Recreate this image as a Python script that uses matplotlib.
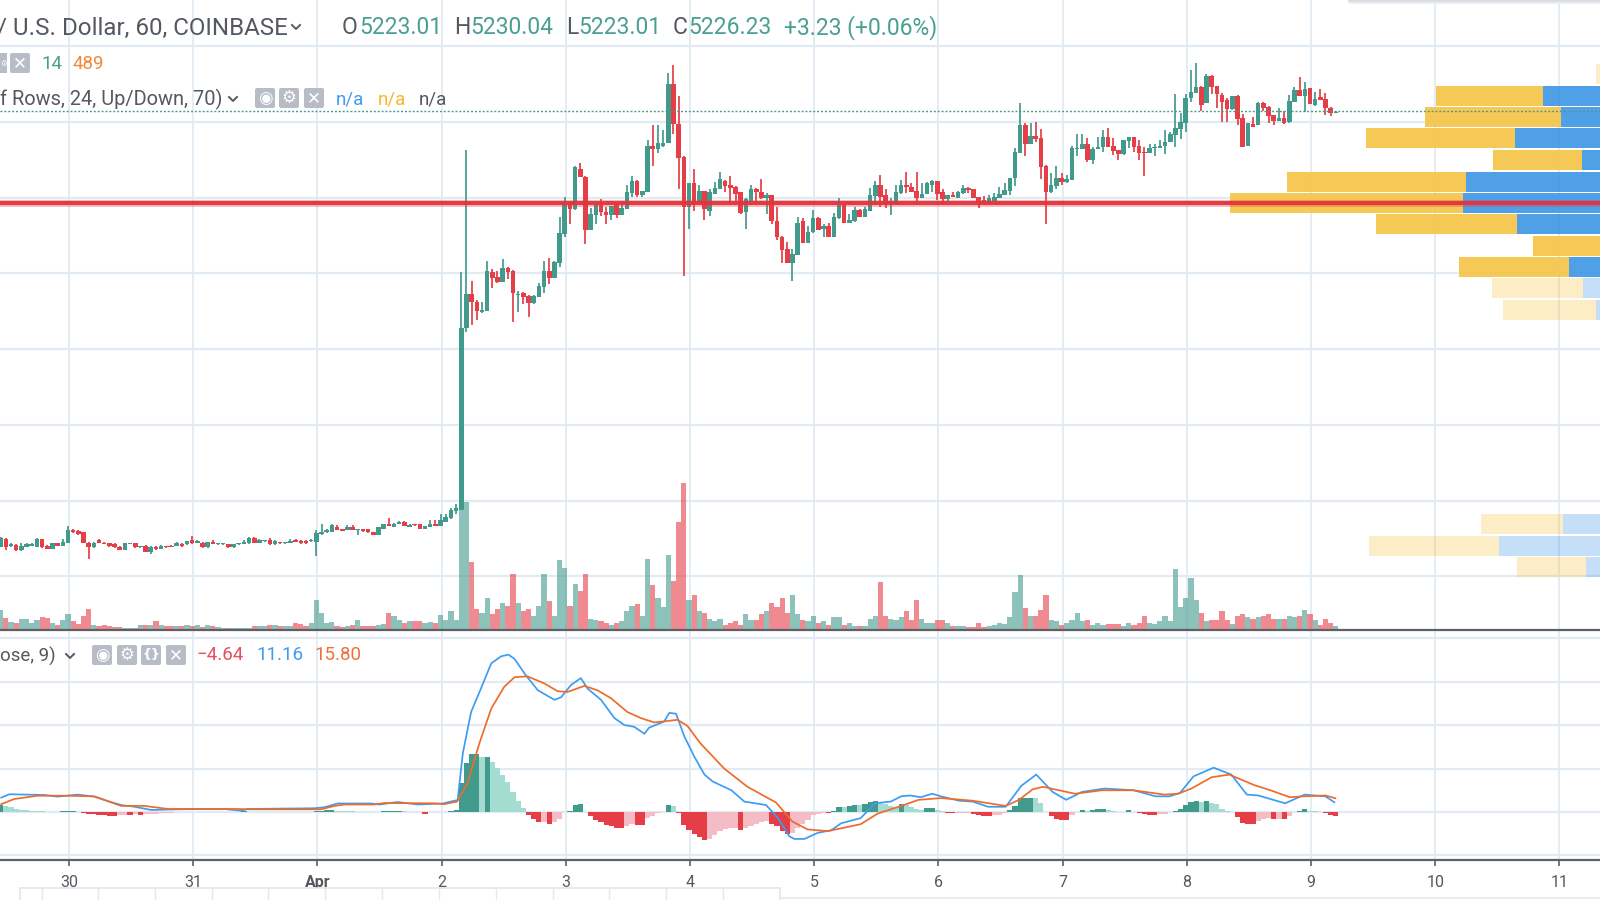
"""BTC/USD 60 min TradingView screenshot: candles, volume, volume profile, MACD."""

import numpy as np
import matplotlib

matplotlib.use("Agg")
import matplotlib.pyplot as plt
from matplotlib.patches import FancyBboxPatch, Rectangle

plt.rcParams["font.family"] = ["Roboto", "DejaVu Sans"]

# ------------------------------------------------- candles (one per hour)
opens = [
    4078, 4098, 4080, 4082, 4069, 4077, 4080, 4078, 4098, 4080,
    4072, 4087, 4080, 4088, 4122, 4119, 4117, 4089, 4076, 4095,
    4089, 4087, 4084, 4078, 4069, 4085, 4087, 4076, 4080, 4065,
    4078, 4073, 4080, 4080, 4080, 4085, 4084, 4095, 4089, 4089,
    4076, 4091, 4084, 4084, 4085, 4076, 4084, 4085, 4087, 4102,
    4089, 4092, 4095, 4084, 4089, 4087, 4089, 4095, 4094, 4094,
    4092, 4091, 4111, 4116, 4117, 4131, 4124, 4122, 4131, 4123,
    4124, 4124, 4117, 4110, 4126, 4137, 4131, 4138, 4144, 4131,
    4137, 4137, 4125, 4131, 4139, 4133, 4144, 4153, 4172, 4175,
    4656, 4746, 4724, 4698, 4701, 4804, 4790, 4777, 4814, 4806,
    4743, 4748, 4740, 4722, 4738, 4764, 4806, 4788, 4827, 4904,
    4986, 4970, 5076, 5055, 4915, 4954, 4981, 4962, 4954, 4983,
    4954, 4970, 5012, 5044, 5007, 5015, 5137, 5129, 5137, 5145,
    5300, 5195, 5108, 4975, 5039, 4986, 5018, 4965, 5010, 5023,
    5044, 5034, 5028, 5015, 4962, 4991, 5023, 5015, 4999, 5007,
    4938, 4896, 4864, 4827, 4849, 4938, 4880, 4909, 4946, 4917,
    4925, 4896, 4946, 4981, 4933, 4938, 4968, 4949, 4965, 5004,
    5034, 5007, 4983, 4983, 5012, 5034, 5028, 5018, 4999, 5010,
    5034, 5044, 5015, 4997, 5007, 4999, 5012, 5026, 5023, 5002,
    4994, 4986, 4991, 4999, 5007, 5018, 5052, 5118, 5192, 5142,
    5163, 5158, 5084, 5015, 5031, 5052, 5041, 5047, 5129, 5129,
    5142, 5100, 5129, 5134, 5160, 5137, 5126, 5115, 5150, 5160,
    5137, 5121, 5118, 5131, 5131, 5137, 5147, 5166, 5182, 5197,
    5263, 5277, 5292, 5250, 5321, 5295, 5271, 5258, 5234, 5269,
    5211, 5137, 5195, 5192, 5250, 5240, 5218, 5203, 5211, 5200,
    5253, 5285, 5269, 5290, 5245, 5266, 5261, 5237, 5223,
]
highs = [
    4104, 4100, 4087, 4084, 4087, 4087, 4087, 4100, 4099, 4082,
    4088, 4088, 4098, 4132, 4126, 4122, 4118, 4090, 4090, 4098,
    4090, 4089, 4087, 4079, 4088, 4088, 4088, 4081, 4082, 4079,
    4079, 4083, 4081, 4082, 4091, 4087, 4094, 4106, 4095, 4090,
    4091, 4095, 4088, 4087, 4086, 4086, 4088, 4096, 4103, 4103,
    4099, 4095, 4100, 4095, 4090, 4090, 4097, 4098, 4095, 4095,
    4098, 4123, 4139, 4124, 4139, 4134, 4125, 4134, 4134, 4125,
    4125, 4125, 4118, 4130, 4138, 4153, 4140, 4147, 4145, 4137,
    4138, 4138, 4133, 4148, 4148, 4164, 4165, 4180, 4190, 4804,
    5126, 4780, 4730, 4724, 4833, 4812, 4806, 4838, 4816, 4808,
    4754, 4750, 4742, 4742, 4775, 4833, 4841, 4832, 4949, 5002,
    4988, 5084, 5092, 5057, 4973, 4989, 4997, 4975, 4979, 4985,
    4989, 5034, 5057, 5046, 5019, 5152, 5192, 5192, 5179, 5329,
    5351, 5269, 5110, 5040, 5076, 5034, 5019, 5023, 5041, 5068,
    5046, 5057, 5030, 5016, 4998, 5034, 5025, 5049, 5012, 5008,
    4975, 4898, 4883, 4864, 4949, 4946, 4925, 4968, 4948, 4931,
    4933, 4960, 4999, 4983, 4957, 4975, 4969, 4975, 5026, 5044,
    5060, 5023, 4999, 5034, 5047, 5068, 5039, 5068, 5039, 5041,
    5047, 5045, 5023, 5008, 5015, 5018, 5034, 5027, 5024, 5003,
    5004, 5007, 5012, 5028, 5039, 5053, 5131, 5250, 5198, 5197,
    5200, 5182, 5086, 5065, 5084, 5065, 5060, 5137, 5168, 5168,
    5158, 5134, 5160, 5179, 5184, 5158, 5127, 5153, 5161, 5161,
    5152, 5134, 5142, 5142, 5152, 5179, 5174, 5274, 5224, 5274,
    5337, 5356, 5295, 5327, 5323, 5296, 5277, 5263, 5269, 5270,
    5221, 5198, 5213, 5253, 5253, 5242, 5219, 5237, 5229, 5271,
    5292, 5319, 5306, 5291, 5279, 5287, 5277, 5240, 5230,
]
lows = [
    4076, 4069, 4076, 4067, 4067, 4076, 4079, 4077, 4075, 4071,
    4071, 4079, 4079, 4087, 4115, 4110, 4087, 4045, 4075, 4087,
    4085, 4076, 4075, 4068, 4068, 4084, 4075, 4075, 4064, 4060,
    4070, 4072, 4075, 4076, 4079, 4076, 4083, 4086, 4088, 4075,
    4075, 4084, 4083, 4083, 4075, 4075, 4083, 4084, 4086, 4087,
    4088, 4091, 4083, 4083, 4086, 4086, 4088, 4090, 4086, 4086,
    4091, 4053, 4110, 4115, 4116, 4121, 4119, 4121, 4121, 4110,
    4118, 4115, 4109, 4109, 4125, 4132, 4130, 4137, 4132, 4130,
    4133, 4124, 4124, 4130, 4132, 4132, 4143, 4152, 4165, 4175,
    4645, 4664, 4677, 4695, 4700, 4761, 4775, 4776, 4785, 4672,
    4698, 4719, 4685, 4720, 4737, 4748, 4772, 4787, 4817, 4896,
    4931, 4968, 5054, 4878, 4914, 4931, 4952, 4931, 4941, 4946,
    4953, 4969, 5002, 5002, 5002, 5014, 5084, 5118, 5134, 5144,
    5168, 5023, 4793, 4917, 4965, 4985, 4941, 4952, 5009, 5022,
    5015, 4981, 4986, 4957, 4917, 4990, 4991, 4997, 4957, 4931,
    4888, 4827, 4827, 4780, 4848, 4880, 4879, 4908, 4914, 4896,
    4895, 4895, 4945, 4932, 4932, 4937, 4948, 4948, 4964, 4981,
    4975, 4973, 4954, 4982, 5011, 5012, 5014, 4989, 4998, 5009,
    5015, 4994, 4986, 4989, 5001, 4998, 5011, 5012, 4998, 4973,
    4984, 4985, 4990, 4998, 5006, 5007, 5031, 5117, 5110, 5141,
    5147, 5049, 4931, 5012, 5023, 5034, 5040, 5046, 5110, 5128,
    5094, 5089, 5128, 5121, 5133, 5113, 5100, 5114, 5131, 5121,
    5100, 5057, 5117, 5110, 5130, 5115, 5146, 5134, 5155, 5174,
    5253, 5276, 5229, 5249, 5274, 5237, 5200, 5200, 5233, 5192,
    5133, 5136, 5186, 5191, 5229, 5197, 5192, 5202, 5196, 5197,
    5252, 5268, 5226, 5247, 5242, 5257, 5218, 5216, 5223,
]
closes = [
    4102, 4078, 4084, 4069, 4080, 4084, 4085, 4098, 4076, 4072,
    4087, 4080, 4091, 4122, 4116, 4111, 4088, 4076, 4089, 4088,
    4086, 4080, 4076, 4069, 4087, 4087, 4076, 4080, 4065, 4078,
    4071, 4080, 4076, 4077, 4088, 4081, 4093, 4087, 4093, 4076,
    4090, 4085, 4087, 4086, 4076, 4085, 4087, 4091, 4102, 4088,
    4095, 4094, 4084, 4092, 4087, 4089, 4094, 4091, 4087, 4087,
    4095, 4113, 4117, 4122, 4135, 4122, 4120, 4131, 4122, 4124,
    4119, 4116, 4110, 4129, 4137, 4133, 4139, 4144, 4133, 4136,
    4134, 4125, 4132, 4139, 4133, 4148, 4157, 4175, 4179, 4656,
    4746, 4724, 4701, 4703, 4806, 4788, 4777, 4814, 4804, 4748,
    4746, 4738, 4722, 4740, 4767, 4806, 4788, 4830, 4907, 4986,
    4970, 5081, 5055, 4915, 4957, 4981, 4962, 4954, 4978, 4954,
    4973, 5015, 5044, 5007, 5018, 5137, 5129, 5145, 5145, 5300,
    5195, 5105, 4975, 5039, 4981, 5018, 4970, 5015, 5026, 5049,
    5031, 5026, 5010, 4960, 4997, 5023, 5015, 4999, 5007, 4938,
    4896, 4862, 4827, 4851, 4933, 4880, 4909, 4946, 4915, 4925,
    4896, 4949, 4981, 4933, 4941, 4968, 4949, 4970, 5007, 5034,
    5002, 4983, 4989, 5015, 5034, 5028, 5015, 4999, 5010, 5039,
    5044, 5010, 4997, 5007, 5002, 5015, 5026, 5020, 4999, 4989,
    4986, 4999, 5002, 5010, 5020, 5052, 5121, 5192, 5142, 5163,
    5155, 5081, 5015, 5034, 5052, 5041, 5049, 5131, 5131, 5142,
    5100, 5129, 5134, 5160, 5134, 5123, 5115, 5152, 5160, 5134,
    5118, 5118, 5131, 5134, 5137, 5147, 5168, 5184, 5200, 5263,
    5279, 5292, 5245, 5321, 5292, 5274, 5253, 5234, 5269, 5208,
    5134, 5197, 5187, 5250, 5237, 5216, 5203, 5211, 5197, 5255,
    5285, 5269, 5287, 5248, 5261, 5258, 5237, 5224, 5226,
]
volumes = [
    19, 11, 7, 6, 10, 10, 6, 9, 12, 11,
    6, 4, 9, 15, 8, 5, 13, 20, 4, 3,
    4, 3, 2, 2, 1, 1, 1, 4, 4, 4,
    8, 4, 3, 3, 3, 3, 4, 3, 4, 2,
    4, 3, 2, 1, 1, 1, 1, 1, 1, 3,
    3, 3, 4, 4, 3, 3, 3, 6, 5, 3,
    6, 29, 16, 6, 7, 3, 2, 3, 4, 9,
    3, 3, 3, 4, 5, 16, 13, 9, 6, 8,
    8, 8, 6, 7, 6, 14, 9, 18, 9, 156,
    127, 67, 20, 16, 31, 15, 20, 26, 23, 55,
    26, 18, 20, 13, 23, 55, 28, 13, 69, 61,
    23, 45, 38, 55, 10, 9, 8, 6, 4, 6,
    8, 18, 23, 25, 13, 70, 44, 31, 22, 74,
    48, 107, 146, 29, 34, 18, 16, 10, 8, 10,
    4, 6, 8, 4, 15, 9, 9, 15, 18, 26,
    22, 31, 16, 34, 15, 9, 8, 13, 6, 8,
    4, 12, 12, 4, 6, 3, 3, 3, 10, 13,
    47, 13, 10, 9, 12, 18, 9, 29, 10, 6,
    6, 9, 9, 6, 3, 3, 3, 2, 2, 6,
    2, 3, 4, 6, 5, 12, 37, 54, 21, 13,
    13, 19, 34, 9, 8, 4, 6, 9, 16, 8,
    9, 4, 6, 4, 5, 5, 5, 3, 6, 4,
    6, 13, 6, 5, 8, 13, 8, 60, 22, 31,
    51, 29, 16, 8, 9, 9, 18, 9, 5, 13,
    15, 12, 10, 12, 13, 15, 10, 10, 10, 13,
    12, 13, 19, 15, 9, 4, 10, 6, 3,
]
macd_hist = [
    8, 7, 6, 3.5, 2.5, 2.3, 1.2, 1, 0.8, 0.5,
    0.3, 0.2, 0.8, 1, 1.2, 0.3, -1, -2, -2.3, -3,
    -3.4, -4.5, -4.6, -3.5, -3.2, -3.4, -2.3, -3.4, -2.3, -2.2,
    -2, -1.2, -1, -0.8, -0.5, -0.3, -0.2, 0, 0, 0,
    0, 0, 0, 0, 0, 0, 0, 1, 0.2, 0,
    0, 0, 0, 0, 0, 0, 0, 0, 0, 0,
    0, 1, 1.5, 2, 2.2, 1.2, 1, 0.8, 0.6, 0.3,
    0, 0, 0, 0, 0.6, 1, 1.2, 1.3, 0.8, 0.2,
    0, -0.3, -2, -0.5, -0.2, 0, 0, 1.2, 2.3, 33,
    56, 66.5, 67, 63, 63.5, 58, 51, 43, 34, 23,
    13, 5, -3.5, -8, -11.5, -11, -13.8, -11.5, -8, -0.5,
    1.2, 8, 9.2, 0.3, -4.6, -9, -11.5, -15, -16, -18,
    -18.4, -16, -14, -15, -15.2, -7, -4.6, -1.2, -0.2, 8,
    7, -1.2, -15, -21, -25, -29, -32, -31, -26, -22,
    -19.5, -18.4, -18.2, -20.7, -18.4, -16, -14, -11.5, -10.3, -13.8,
    -16, -22, -25, -24, -18.4, -14, -9, -3.5, -2.3, -1.2,
    -1.3, 1.2, 5.8, 5.6, 7, 8, 7.9, 9.2, 11.5, 12.6,
    11.5, 9, 7, 6, 9, 8, 5.8, 3.5, 2.3, 4.6,
    4.7, 2.3, 1.2, -1.2, -1.3, -1.2, -1.1, -1, -2.3, -3.5,
    -4.6, -4.7, -3.5, -3.4, -1.2, 2.3, 7, 16, 16.1, 16.2,
    16, 10, 0.5, -4.6, -8, -9.2, -9.3, -3.5, -0.3, 2.3,
    1.2, 2.3, 3.5, 3.6, 2.3, 1.2, 0.3, 0.2, 2.3, 0.2,
    -1.2, -2.3, -3.5, -3.6, -2.3, -2.2, -0.3, 1.2, 3.5, 8,
    11.5, 12.6, 11.5, 12.7, 10.3, 9.2, 3.5, 1.2, 0.2, -5.8,
    -12.6, -13.8, -13.9, -10.3, -8, -7, -8, -7.9, -8.1, -4.6,
    -0.3, 1.2, 3.5, 1.2, 1, 0.2, -1.2, -3.5, -4.64,
]

# ------------------------------------------------- MACD lines (hours, value)
macd_h = [
    -13.1, -11.5, -4.8, -2.2, 1.7, 4.9, 7.5, 10.1, 12.6, 15.9, 21, 25.5, 30,
    33.2, 34.5, 47.4, 49.3, 51.9, 58.4, 60, 63.5, 67.4, 70.6, 72.2, 75.1, 76.1,
    77.7, 79.6, 81.6, 83.5, 84.9, 86.1, 88.3, 90.6, 93.8, 95.1, 97, 98.9, 100.2,
    102.8, 105.4, 107.3, 109.2, 111.2, 112.1, 115, 116, 117.3, 118.9, 120.8,
    122.8, 124.4, 128, 130.5, 134.7, 137, 139.2, 140.2, 142.1, 144.7, 147.3,
    149.2, 153, 155.7, 158.8, 160.8, 162.5, 164.6, 166.8, 168.5, 172, 174.6,
    177.6, 181, 184, 186.9, 190.1, 192.7, 195.7, 200.1, 205.7, 210, 212.7,
    214.7, 217.3, 221.2, 224.6, 227.6, 229.8, 235, 238.8, 242.8, 244.5,
]
macd_v = [
    16.6, 20.4, 19.6, 17.7, 20, 17.7, 12.5, 8, 6.1, 2.3, 3.1, 3.5, 3.5,
    1.5, 3.5, 4.3, 5.4, 9.8, 9.8, 8.6, 11.5, 8.6, 9.4, 9.8, 13.8, 67.5,
    115, 142, 171, 179, 181, 176, 157, 140, 129, 132, 146, 154, 142,
    129, 108, 100, 98, 90, 97, 104, 114, 113, 87, 64,
    43, 35, 25, 12, 8, -7, -28, -31, -31, -24, -21,
    -13, -7, 10, 12, 18, 19, 17, 21, 18, 13, 12,
    6, 6, 30, 43, 23, 14, 23, 27, 25, 18, 18,
    22, 41, 51, 43, 20, 19, 10, 20, 18, 11.16,
]
signal_h = [
    -13.1, -10.6, -6.1, -0.3, 4.9, 10.1, 14.6, 19.1, 32.6, 34.5, 48.7, 51.3,
    53.2, 59, 60.9, 70.6, 72.5, 75, 77, 79.3, 81.6, 84.1, 86.1, 88.6, 91.8,
    94.4, 96.3, 99.6, 102.1, 104.7, 107.9, 110.5, 113.1, 117.6, 119.5, 122,
    126.6, 131.1, 136.6, 139.8, 142.7, 146.6, 153, 156.2, 160.8, 164.2, 168.5,
    174.6, 181, 183.6, 186.2, 188.2, 194.4, 199.6, 205.7, 211.7, 214.3, 216.9,
    220.8, 224.2, 229, 232.4, 235.9, 238.5, 242.8, 244.7,
]
signal_v = [
    9, 14.9, 18.7, 18.7, 18, 7, 7, 3.5, 3.5, 3.1, 3.1, 7,
    8.6, 8.6, 10.3, 10, 9, 12, 33, 79, 119, 144, 155, 156, 148,
    139, 138, 145, 140, 131, 115, 108, 103, 106, 99, 79,
    50, 29, 11, -11, -20, -22, -14, -2, 7, 14, 16,
    13, 7, 14, 26, 29, 21, 25, 25, 20, 21, 27,
    40, 43, 31, 24.5, 17, 18, 19, 15.8,
]

# ------------------------------------------------- volume profile rows
profile_low = [5300, 5242, 5187, 5131, 5073, 5015, 4960, 4904, 4846, 4790,
               4735, 4677, 4112, 4053, 3998]
profile_up = [95, 157, 139, 185, 118, 234, 237, 183, 95, 131, 117, 104, 137, 201, 114]
profile_down = [9, 107, 136, 149, 89, 179, 233, 141, 72, 110, 91, 93, 82, 130, 69]
profile_faded = [True, False, False, False, False, False, False, False, False,
                 False, True, True, True, True, True]
profile_height = 53

# ------------------------------------------------- levels and labels
last_price = 5229
level_price = 4986
price_grid = [5400, 5200, 5000, 4800, 4600, 4400, 4200, 4000]
macd_grid = [200, 150, 100, 50, 0, -50]
day_ticks = [0, 24, 48, 72, 96, 120, 144, 168, 192, 216, 240, 264, 288]
day_labels = ["30", "31", "Apr", "2", "3", "4", "5", "6", "7", "8", "9", "10", "11"]

GREEN = "#429a8c"
RED = "#e53e46"
GREEN_LIGHT = "#a5dcd2"
RED_LIGHT = "#f5bcc6"
GRID = "#e2ebf3"
DARK = "#5d606b"
TEAL_TXT = "#4aa08f"
GREY_TXT = "#55585f"
BLUE = "#3d9cf3"
ORANGE = "#ee6c2b"

opens, highs, lows, closes = map(np.array, (opens, highs, lows, closes))
volumes, macd_hist = np.array(volumes), np.array(macd_hist)
hours = np.arange(len(closes)) - 13 - 0.2
up = closes >= opens
XLIM = (-69 / 5.175, (1600 - 69) / 5.175)
W, H = 1600, 900

fig = plt.figure(figsize=(16, 9), dpi=100, facecolor="white")


def pane(top, bottom, z):
    ax = fig.add_axes([0, 1 - bottom / H, 1, (bottom - top) / H], zorder=z)
    ax.set_xlim(*XLIM)
    ax.patch.set_visible(False)
    for s in ax.spines.values():
        s.set_visible(False)
    ax.set_xticks([])
    ax.set_yticks([])
    return ax


# volume pane holds the grid
ax_vol = pane(0, 630, 1)
ax_vol.set_ylim(-1, 629)
ax_vol.bar(hours, volumes, width=1.0, color=np.where(up, GREEN, RED),
           alpha=0.6, linewidth=0, zorder=3)

# profile: bars run leftward from an anchor past the right edge
ax_vp = pane(0, 630, 2)
ax_vp.set_xlim(1700, 100)
ax_vp.set_ylim(3857.9, 5522.3)
centers = np.array(profile_low) + profile_height / 2
for y, u, d, faded in zip(centers, profile_up, profile_down, profile_faded):
    a = 0.3 if faded else 0.9
    ax_vp.barh(y, u, height=profile_height, color="#3d96e6", alpha=a, linewidth=0)
    ax_vp.barh(y, d, left=u, height=profile_height, color="#f6c445", alpha=a, linewidth=0)

# candles
ax = pane(0, 630, 3)
ax.set_ylim(3857.9, 5522.3)
for p in price_grid:
    ax_vol.axhline((p - 3857.9) / (5522.3 - 3857.9) * 630 - 1, color=GRID, lw=1.6, zorder=1)
ax.vlines(hours, lows, highs, colors=np.where(up, GREEN, RED), lw=1.25, zorder=3)
ax.bar(hours, np.maximum(np.abs(closes - opens), 3), bottom=np.minimum(opens, closes),
       width=0.88, color=np.where(up, GREEN, RED), linewidth=0, zorder=4)
ax.axhline(level_price, color=RED, lw=5.0, alpha=0.35, zorder=5)
ax.axhline(level_price, color="#e2343c", lw=2.9, alpha=0.95, zorder=5)
ax.axhline(last_price, color=GREEN, lw=1.0, ls=(0, (1.4, 1.4)), zorder=5)

# MACD
ax_m = pane(630, 860, 3)
ax_m.set_ylim((812 - 860) * 1.15, (812 - 630) * 1.15)
for g in macd_grid:
    ax_m.axhline(g, color=GRID, lw=1.6, zorder=1)
prev = np.r_[macd_hist[0], macd_hist[:-1]]
strong = (macd_hist * prev < 0) | (np.abs(macd_hist) >= np.abs(prev))
hist_colors = [(GREEN if s else GREEN_LIGHT) if v >= 0 else (RED if s else RED_LIGHT)
               for v, s in zip(macd_hist, strong)]
ax_m.bar(hours, macd_hist, width=1.0, color=hist_colors, linewidth=0, zorder=3)
ax_m.plot(macd_h, macd_v, color=BLUE, lw=1.25, zorder=4)
ax_m.plot(signal_h, signal_v, color=ORANGE, lw=1.25, zorder=5)
ax_m.set_xticks(day_ticks)
ax_m.set_xticklabels(day_labels)
ax_m.tick_params(axis="x", length=4, width=1.2, color=DARK, labelcolor=GREY_TXT,
                 labelsize=11.5, pad=7)
ax_m.get_xticklabels()[2].set_fontweight("bold")
for tx in day_ticks:
    ax_vol.axvline(tx, color=GRID, lw=1.3, zorder=1)
    ax_m.axvline(tx, color=GRID, lw=1.3, zorder=1)

# ------------------------------------------------- chrome in pixel coordinates
ov = fig.add_axes([0, 0, 1, 1], zorder=10)
ov.set_xlim(0, W)
ov.set_ylim(H, 0)
ov.axis("off")
ov.patch.set_visible(False)

ov.plot([0, W], [630, 630], color=DARK, lw=1.6)
ov.plot([0, W], [860, 860], color=DARK, lw=1.6)


def label(x, y, s, color=GREY_TXT, size=15.5, **kw):
    ov.text(x, y, s, color=color, fontsize=size, va="center", ha=kw.pop("ha", "left"), **kw)


def icon(x, y, glyph, size=12):
    ov.add_patch(FancyBboxPatch((x - 8, y - 8), 16, 16, boxstyle="round,pad=2,rounding_size=2",
                                fc="#b8bcc7", ec="none"))
    ov.text(x, y, glyph, color="white", fontsize=size, ha="center", va="center",
            family="DejaVu Sans", fontweight="bold")


def chevron(x, y):
    ov.plot([x - 4, x, x + 4], [y - 2, y + 2, y - 2], color=GREY_TXT, lw=1.4)


# header line
label(-3, 28, "/ U.S. Dollar, 60, COINBASE", size=17.4)
chevron(296, 27)
for x, s, col in [(342, "O", GREY_TXT), (359, "5223.01", TEAL_TXT), (454, "H", GREY_TXT),
                  (470, "5230.04", TEAL_TXT), (566, "L", GREY_TXT), (578, "5223.01", TEAL_TXT),
                  (673, "C", GREY_TXT), (688, "5226.23", TEAL_TXT),
                  (784, "+3.23 (+0.06%)", TEAL_TXT)]:
    label(x, 28, s, color=col, size=16.5)

# volume legend: the first icon is clipped by the crop in the reference
ov.add_patch(Rectangle((0, 53), 7, 20, fc="#b8bcc7", ec="none"))
ov.text(3.5, 63, "⚙", color="white", fontsize=5.5, ha="center", va="center",
        family="DejaVu Sans")
icon(20, 63, "✕")
label(41, 64, "14", color=TEAL_TXT, size=13.5)
label(73, 64, "489", color="#f08a3c", size=13.5)

# profile legend
label(0, 99, "f Rows, 24, Up/Down, 70)", size=14.4)
chevron(233, 99)
icon(265, 98, "◉")
icon(289, 98, "⚙")
icon(314, 98, "✕")
label(336, 99, "n/a", color=BLUE, size=13.5)
label(378, 99, "n/a", color="#f5b82e", size=13.5)
label(419, 99, "n/a", size=13.5)

# MACD legend
label(0, 656, "ose, 9)", size=13.5)
chevron(70, 656)
icon(102, 655, "◉")
icon(127, 655, "⚙")
icon(151, 655, "{}", size=9)
icon(176, 655, "✕")
label(197, 655, "−4.64", color="#e5505a", size=13.5)
label(256, 655, "11.16", color=BLUE, size=13.5)
label(314, 655, "15.80", color="#f0703a", size=13.5)

# panel shadow top right, toolbar at the bottom
ov.add_patch(Rectangle((1348, 0), 252, 2, fc="#d9dce1", ec="none"))
ov.add_patch(Rectangle((1349, 2), 251, 2, fc="#eceef1", ec="none"))
ov.plot([780, W], [897.5, 897.5], color="#e6e8ec", lw=1.2)
ov.add_patch(Rectangle((20, 888), 760, 14, fc="white", ec="#e3e5ea", lw=1.2))
for x in [42, 98, 155, 212, 268, 325, 382, 439, 496, 553, 609, 666, 723]:
    ov.plot([x, x], [888, 900], color="#e6e8ec", lw=1.0)

fig.savefig("out.png", dpi=100, facecolor="white")
